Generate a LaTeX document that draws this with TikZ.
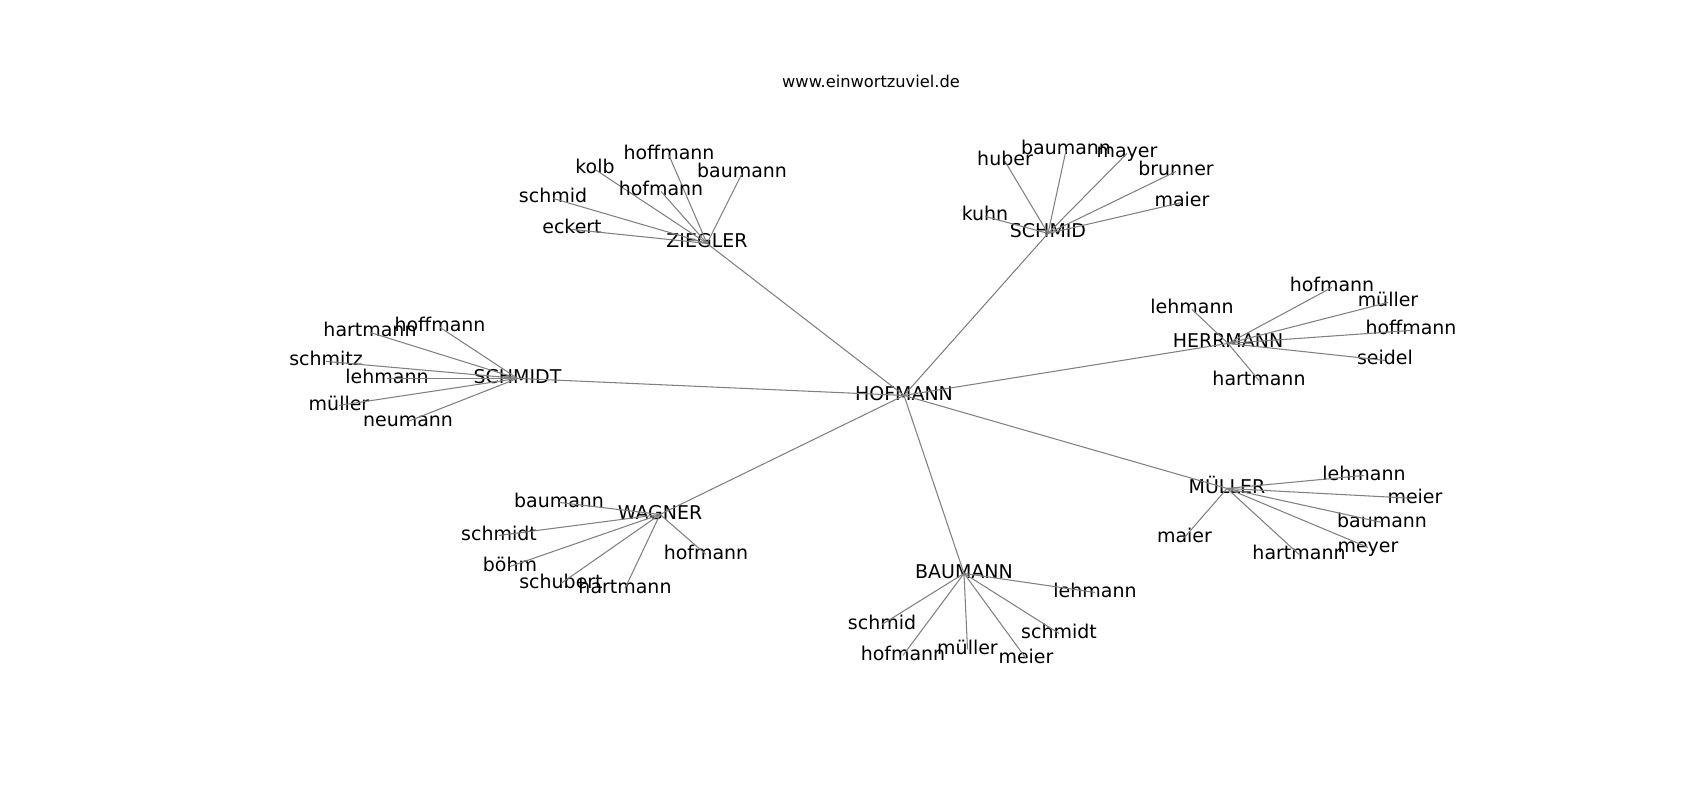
\documentclass[tikz,border=0pt]{standalone}
\usepackage{fontspec}
\setmainfont{DejaVu Sans}
\begin{document}
\begin{tikzpicture}[x=0.02cm,y=-0.02cm,
  lbl/.style={anchor=base,inner sep=0pt,text height=0.76em,text depth=0.24em,font=\fontsize{10.8}{13}\selectfont},
  link/.style={draw=gray,line width=0.6pt}]
\useasboundingbox (0,0) rectangle (1700,800);
\node[anchor=base,inner sep=0pt,font=\fontsize{9.25}{11}\selectfont] (title) at (871,87.5) {www.einwortzuviel.de};
%----------------HOFMANN----------
\node[lbl] (hof) at (904,400) {HOFMANN};
%----------------ZIEGLER----------
\node[lbl] (zie) at (707,248) {ZIEGLER};
\draw[link] (hof.center)--(zie.center);
\foreach \i/\t/\x/\y in {1/hoffmann/669/160,2/kolb/595/174,3/baumann/742/178,4/schmid/553/203,5/hofmann/661/196,6/eckert/572/234}{
  \node[lbl] (zie\i) at (\x,\y) {\t};
  \draw[link] (zie.center)--(zie\i.center);
}
%----------------SCHMID----------
\node[lbl] (smd) at (1048,238) {SCHMID};
\draw[link] (hof.center)--(smd.center);
\foreach \i/\t/\x/\y in {1/baumann/1066/155,2/mayer/1127/158,3/huber/1005/166,4/brunner/1176/176,5/maier/1182/207,6/kuhn/985/221}{
  \node[lbl] (smd\i) at (\x,\y) {\t};
  \draw[link] (smd.center)--(smd\i.center);
}
%----------------HERRMANN----------
\node[lbl] (her) at (1228,348) {HERRMANN};
\draw[link] (hof.center)--(her.center);
\foreach \i/\t/\x/\y in {1/hofmann/1332/292,2/müller/1388/307,3/lehmann/1192/314,4/hoffmann/1411/335,5/seidel/1385/365,6/hartmann/1259/385}{
  \node[lbl] (her\i) at (\x,\y) {\t};
  \draw[link] (her.center)--(her\i.center);
}
%----------------SCHMIDT----------
\node[lbl] (sdt) at (517.5,383) {SCHMIDT};
\draw[link] (hof.center)--(sdt.center);
\foreach \i/\t/\x/\y in {1/hoffmann/440/332,2/hartmann/370/337,3/schmitz/326/366,4/lehmann/387/383,5/müller/339/410,6/neumann/408/426}{
  \node[lbl] (sdt\i) at (\x,\y) {\t};
  \draw[link] (sdt.center)--(sdt\i.center);
}
%----------------WAGNER----------
\node[lbl] (wag) at (660,519) {WAGNER};
\draw[link] (hof.center)--(wag.center);
\foreach \i/\t/\x/\y in {1/baumann/559/507,2/schmidt/499/540,3/hofmann/706/559,4/böhm/510/571,5/schubert/561/588,6/hartmann/625/593}{
  \node[lbl] (wag\i) at (\x,\y) {\t};
  \draw[link] (wag.center)--(wag\i.center);
}
%----------------BAUMANN----------
\node[lbl] (bau) at (964,578) {BAUMANN};
\draw[link] (hof.center)--(bau.center);
\foreach \i/\t/\x/\y in {1/lehmann/1095/597,2/schmid/882/629,3/schmidt/1059/638,4/hofmann/903/660,5/müller/967.5/654,6/meier/1026/663}{
  \node[lbl] (bau\i) at (\x,\y) {\t};
  \draw[link] (bau.center)--(bau\i.center);
}
%----------------MÜLLER----------
\node[lbl] (mue) at (1227,493) {MÜLLER};
\draw[link] (hof.center)--(mue.center);
\foreach \i/\t/\x/\y in {1/lehmann/1364/480,2/meier/1415/503,3/baumann/1382/527,4/maier/1184.5/542,5/hartmann/1299/559,6/meyer/1368/552}{
  \node[lbl] (mue\i) at (\x,\y) {\t};
  \draw[link] (mue.center)--(mue\i.center);
}
\end{tikzpicture}
\end{document}
